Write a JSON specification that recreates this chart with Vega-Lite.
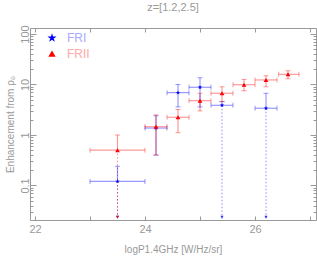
{
  "$schema": "https://vega.github.io/schema/vega-lite/v6.json",
  "width": 286,
  "height": 192,
  "autosize": "none",
  "padding": {"left": 30, "top": 28, "right": 1, "bottom": 38},
  "background": "white",
  "config": {
    "view": {"stroke": "#999999", "strokeWidth": 1},
    "font": "Liberation Sans",
    "axis": {"domain": false, "grid": false, "tickColor": "#999999", "labelColor": "#999999", "titleColor": "#999999", "labelFont": "Liberation Sans", "titleFont": "Liberation Sans", "labelFontSize": 11, "titleFontSize": 10, "titleFontWeight": "normal"},
    "title": {"color": "#999999", "fontSize": 11, "fontWeight": "normal", "font": "Liberation Sans"},
    "legend": {"orient": "none", "legendX": 16, "legendY": 4, "padding": 0, "rowPadding": 4, "labelFontSize": 12, "labelFont": "Liberation Sans", "labelOffset": 9, "symbolSize": 22, "title": null, "symbolOpacity": 1,
      "labelColor": "#a8a8ff"}
  },
  "title": {"text": "z=[1.2,2.5]", "offset": 12},
  "data": {"values": [
    {"series": "FRI", "x": 23.5, "xlo": 23.0, "xhi": 24.0, "y": 0.12, "ylo": null, "yhi": 0.24, "lim": 1},
    {"series": "FRI", "x": 24.2, "xlo": 24.0, "xhi": 24.4, "y": 1.37, "ylo": 0.40, "yhi": 2.4, "lim": 0},
    {"series": "FRI", "x": 24.6, "xlo": 24.4, "xhi": 24.8, "y": 6.9, "ylo": 3.6, "yhi": 10.0, "lim": 0},
    {"series": "FRI", "x": 25.0, "xlo": 24.8, "xhi": 25.2, "y": 8.8, "ylo": 3.6, "yhi": 13.6, "lim": 0},
    {"series": "FRI", "x": 25.4, "xlo": 25.2, "xhi": 25.6, "y": 3.87, "ylo": null, "yhi": 4.6, "lim": 1},
    {"series": "FRI", "x": 26.2, "xlo": 26.0, "xhi": 26.4, "y": 3.38, "ylo": null, "yhi": 6.7, "lim": 1},
    {"series": "FRII", "x": 23.5, "xlo": 23.0, "xhi": 24.0, "y": 0.50, "ylo": null, "yhi": 1.0, "lim": 1},
    {"series": "FRII", "x": 24.2, "xlo": 24.0, "xhi": 24.4, "y": 1.46, "ylo": 0.40, "yhi": 2.5, "lim": 0},
    {"series": "FRII", "x": 24.6, "xlo": 24.4, "xhi": 24.8, "y": 2.24, "ylo": 1.11, "yhi": 3.2, "lim": 0},
    {"series": "FRII", "x": 25.0, "xlo": 24.8, "xhi": 25.2, "y": 4.78, "ylo": 3.0, "yhi": 6.7, "lim": 0},
    {"series": "FRII", "x": 25.4, "xlo": 25.2, "xhi": 25.6, "y": 6.7, "ylo": 4.57, "yhi": 9.0, "lim": 0},
    {"series": "FRII", "x": 25.8, "xlo": 25.6, "xhi": 26.0, "y": 9.9, "ylo": 7.5, "yhi": 12.6, "lim": 0},
    {"series": "FRII", "x": 26.2, "xlo": 26.0, "xhi": 26.4, "y": 12.3, "ylo": 9.0, "yhi": 14.9, "lim": 0},
    {"series": "FRII", "x": 26.6, "xlo": 26.43, "xhi": 26.8, "y": 15.9, "ylo": 13.0, "yhi": 18.7, "lim": 0}
  ]},
  "resolve": {"axis": {"x": "independent", "y": "independent"}},
  "layer": [
    {
      "mark": {"type": "rule", "opacity": 0},
      "encoding": {
        "x": {"field": "x", "type": "quantitative", "scale": {"domain": [21.909, 27.109], "nice": false, "zero": false},
          "axis": {"orient": "bottom", "values": [22, 23, 24, 25, 26, 27], "labelExpr": "datum.value % 2 == 0 ? datum.label : ''", "tickSize": -4, "labelPadding": 7, "title": "logP1.4GHz [W/Hz/sr]", "titlePadding": 10}},
        "y": {"field": "y", "type": "quantitative", "scale": {"type": "log", "domain": [0.0207, 131.5], "nice": false},
          "axis": {"orient": "left", "values": [0.03,0.04,0.05,0.06,0.07,0.08,0.09,0.1,0.2,0.3,0.4,0.5,0.6,0.7,0.8,0.9,1,2,3,4,5,6,7,8,9,10,20,30,40,50,60,70,80,90,100],
            "labelExpr": "datum.value == 0.1 ? '0.1' : datum.value == 1 ? '1' : datum.value == 10 ? '10' : datum.value == 100 ? '100' : ''",
            "tickSize": {"condition": {"test": "datum.value == 0.1 || datum.value == 1 || datum.value == 10 || datum.value == 100", "value": -6}, "value": -3},
            "labelAngle": -90, "labelPadding": 6, "title": "Enhancement from ρ₀", "titlePadding": 4}}
      }
    },
    {
      "mark": {"type": "rule", "opacity": 0},
      "encoding": {
        "x": {"field": "x", "type": "quantitative", "axis": {"orient": "top", "values": [22, 23, 24, 25, 26, 27], "labels": false, "tickSize": -4, "title": null}},
        "y": {"field": "y", "type": "quantitative", "axis": {"orient": "right", "values": [0.03,0.04,0.05,0.06,0.07,0.08,0.09,0.1,0.2,0.3,0.4,0.5,0.6,0.7,0.8,0.9,1,2,3,4,5,6,7,8,9,10,20,30,40,50,60,70,80,90,100], "labels": false, "title": null,
          "tickSize": {"condition": {"test": "datum.value == 0.1 || datum.value == 1 || datum.value == 10 || datum.value == 100", "value": -6}, "value": -3}}}
      }
    },
    {
      "transform": [{"filter": "datum.lim == 1"}],
      "mark": {"type": "rule", "strokeDash": [1.5, 2], "strokeWidth": 1, "opacity": 0.45},
      "encoding": {
        "x": {"field": "x", "type": "quantitative", "axis": null},
        "y": {"field": "y", "type": "quantitative", "axis": null},
        "y2": {"datum": 0.0215},
        "color": {"field": "series", "type": "nominal", "scale": {"domain": ["FRI", "FRII"], "range": ["#0000ff", "#ff0000"]}}
      }
    },
    {
      "transform": [{"filter": "datum.lim == 1"}],
      "mark": {"type": "point", "filled": true, "size": 10, "shape": "triangle-down", "opacity": 0.8},
      "encoding": {
        "x": {"field": "x", "type": "quantitative", "axis": null},
        "y": {"datum": 0.0235, "type": "quantitative", "axis": null},
        "color": {"field": "series", "type": "nominal"}
      }
    },
    {
      "mark": {"type": "rule", "strokeWidth": 1.2, "opacity": 0.4},
      "encoding": {
        "x": {"field": "xlo", "type": "quantitative", "axis": null},
        "x2": {"field": "xhi"},
        "y": {"field": "y", "type": "quantitative", "axis": null},
        "color": {"field": "series", "type": "nominal"}
      }
    },
    {
      "mark": {"type": "rule", "strokeWidth": 1.2, "opacity": 0.4},
      "encoding": {
        "x": {"field": "x", "type": "quantitative", "axis": null},
        "y": {"field": "y", "type": "quantitative", "axis": null},
        "y2": {"field": "yhi"},
        "color": {"field": "series", "type": "nominal"}
      }
    },
    {
      "transform": [{"filter": "datum.ylo != null"}],
      "mark": {"type": "rule", "strokeWidth": 1.2, "opacity": 0.4},
      "encoding": {
        "x": {"field": "x", "type": "quantitative", "axis": null},
        "y": {"field": "ylo", "type": "quantitative", "axis": null},
        "y2": {"field": "y"},
        "color": {"field": "series", "type": "nominal"}
      }
    },
    {
      "mark": {"type": "tick", "orient": "vertical", "size": 5, "thickness": 1, "opacity": 0.4},
      "encoding": {
        "x": {"field": "xlo", "type": "quantitative", "axis": null},
        "y": {"field": "y", "type": "quantitative", "axis": null},
        "color": {"field": "series", "type": "nominal"}
      }
    },
    {
      "mark": {"type": "tick", "orient": "vertical", "size": 5, "thickness": 1, "opacity": 0.4},
      "encoding": {
        "x": {"field": "xhi", "type": "quantitative", "axis": null},
        "y": {"field": "y", "type": "quantitative", "axis": null},
        "color": {"field": "series", "type": "nominal"}
      }
    },
    {
      "mark": {"type": "tick", "orient": "horizontal", "size": 5, "thickness": 1, "opacity": 0.4},
      "encoding": {
        "x": {"field": "x", "type": "quantitative", "axis": null},
        "y": {"field": "yhi", "type": "quantitative", "axis": null},
        "color": {"field": "series", "type": "nominal"}
      }
    },
    {
      "transform": [{"filter": "datum.ylo != null"}],
      "mark": {"type": "tick", "orient": "horizontal", "size": 5, "thickness": 1, "opacity": 0.4},
      "encoding": {
        "x": {"field": "x", "type": "quantitative", "axis": null},
        "y": {"field": "ylo", "type": "quantitative", "axis": null},
        "color": {"field": "series", "type": "nominal"}
      }
    },
    {
      "mark": {"type": "point", "filled": true, "size": 22, "opacity": 1},
      "encoding": {
        "x": {"field": "x", "type": "quantitative", "axis": null},
        "y": {"field": "y", "type": "quantitative", "axis": null},
        "color": {"field": "series", "type": "nominal", "legend": {"symbolOpacity": 1, "encode": {"labels": {"update": {"fill": [{"test": "datum.value === 'FRII'", "value": "#ffa8a8"}, {"value": "#a8a8ff"}]}}}}},
        "shape": {"field": "series", "type": "nominal", "scale": {"domain": ["FRI", "FRII"], "range": ["M0,-1L0.2245,-0.309L0.951,-0.309L0.363,0.118L0.588,0.809L0,0.382L-0.588,0.809L-0.363,0.118L-0.951,-0.309L-0.2245,-0.309Z", "triangle-up"]},
          "legend": {"symbolOpacity": 1, "encode": {"labels": {"update": {"fill": [{"test": "datum.value === 'FRII'", "value": "#ffa8a8"}, {"value": "#a8a8ff"}]}}}}}
      }
    }
  ]
}
